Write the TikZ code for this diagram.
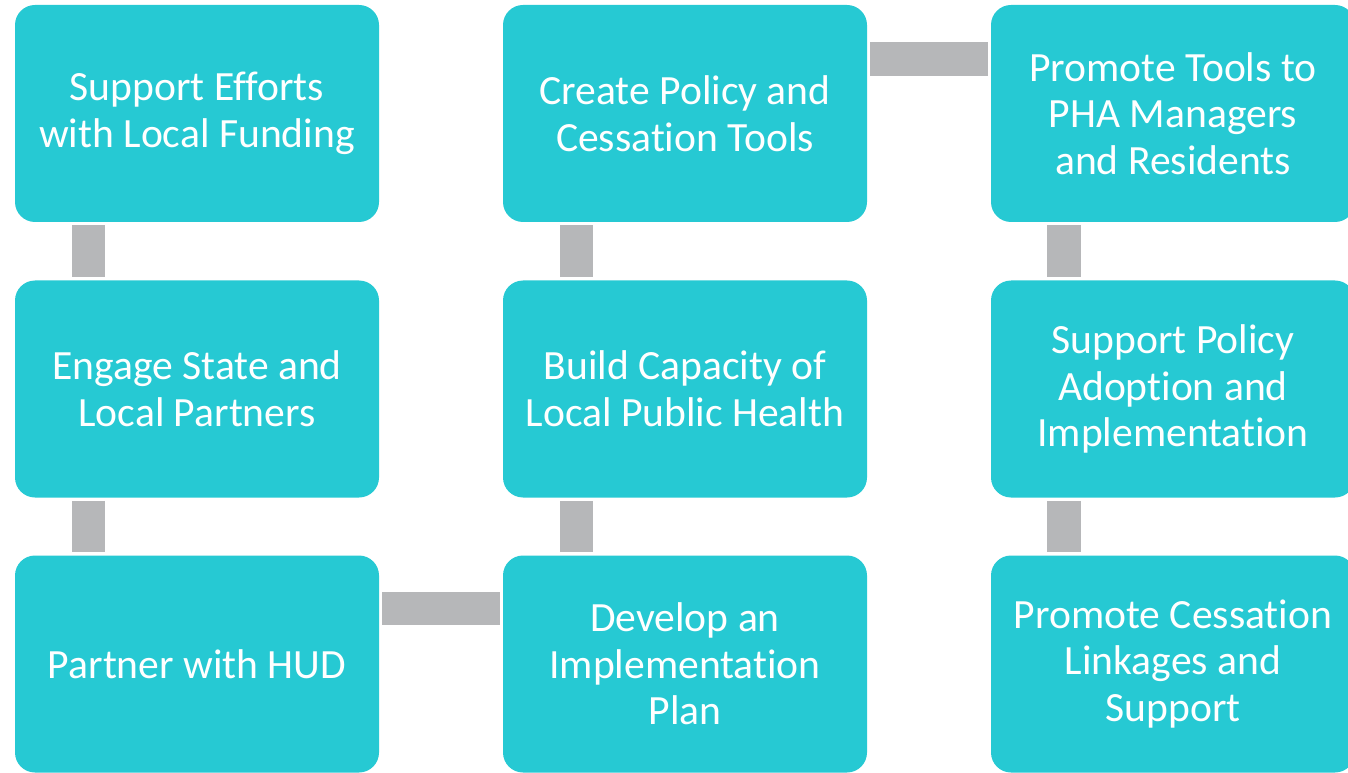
\documentclass[tikz,border=0pt]{standalone}
\usepackage{fontspec}
\setmainfont{Carlito}[Ligatures = NoCommon]
\usepackage{xcolor}
\usepackage{tikz}
\usetikzlibrary{positioning,calc}
\definecolor{boxteal}{HTML}{26C9D3}
\definecolor{linkgray}{HTML}{B6B7B9}

\begin{document}
\begin{tikzpicture}[x = .5pt, y = .5pt,
    stage/.style = {fill = boxteal, rounded corners = 10pt, minimum width = 182pt, minimum height = 108.5pt, inner sep = 0pt, align = center, text = white, font = \fontsize{20.8}{23.3}\selectfont},
    link/.style = {draw = linkgray, line width = 16.75pt, shorten < = 1.5pt, shorten > = 1.5pt}]
    \useasboundingbox (0,0) rectangle (1348,772);
    % First column
    \node[stage] (funding) at (197,658.5) {Support Efforts\\with Local Funding};
    \node[stage] (partners) at (197,383) {Engage State and\\Local Partners};
    \node[stage] (hud) at (197,108) {Partner with HUD};
    % Second column
    \node[stage] (tools) at (685,658.5) {Create Policy and\\Cessation Tools};
    \node[stage] (capacity) at (685,383) {Build Capacity of\\Local Public Health};
    \node[stage] (plan) at (685,108) {Develop an\\Implementation\\Plan};
    % Third column
    \node[stage] (promote) at (1173,658.5) {Promote Tools to\\PHA Managers\\and Residents};
    \node[stage] (adoption) at (1173,383) {Support Policy\\Adoption and\\Implementation};
    \node[stage] (linkages) at (1173,108) {Promote Cessation\\Linkages and\\Support};
    % Links
    \draw[link] ([xshift = -54.25pt]funding.south) -- ([xshift = -54.25pt]partners.north);
    \draw[link] ([xshift = -54.25pt]partners.south) -- ([xshift = -54.25pt]hud.north);
    \draw[link] ([yshift = 27.75pt]hud.east) -- ([yshift = 27.75pt]plan.west);
    \draw[link] ([xshift = -54.25pt]plan.north) -- ([xshift = -54.25pt]capacity.south);
    \draw[link] ([xshift = -54.25pt]capacity.north) -- ([xshift = -54.25pt]tools.south);
    \draw[link] ([yshift = 27.25pt]tools.east) -- ([yshift = 27.25pt]promote.west);
    \draw[link] ([xshift = -54.5pt]promote.south) -- ([xshift = -54.5pt]adoption.north);
    \draw[link] ([xshift = -54.5pt]adoption.south) -- ([xshift = -54.5pt]linkages.north);
\end{tikzpicture}
\end{document}
